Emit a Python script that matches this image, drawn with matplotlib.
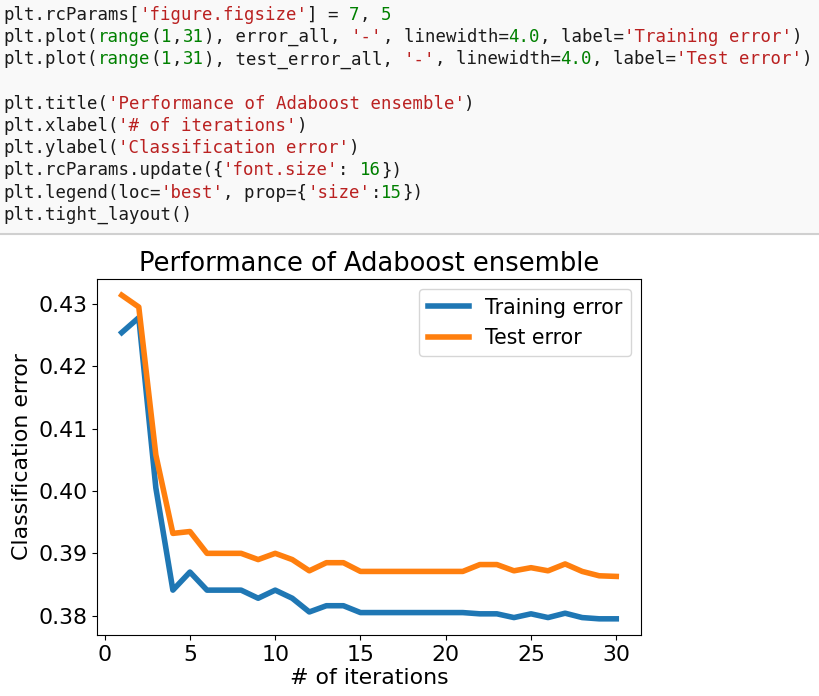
import matplotlib
matplotlib.use('Agg')
import matplotlib.pyplot as plt
from matplotlib.patches import Rectangle
from matplotlib.lines import Line2D

# values
iterations = list(range(1, 31))
error_all = [0.4254, 0.4278, 0.4005, 0.3841, 0.3870, 0.3841, 0.3841, 0.3841,
             0.3828, 0.3841, 0.3828, 0.3806, 0.3816, 0.3816, 0.3805, 0.3805,
             0.3805, 0.3805, 0.3805, 0.3805, 0.3805, 0.3803, 0.3803, 0.3797,
             0.3803, 0.3797, 0.3804, 0.3797, 0.3795, 0.3795]
test_error_all = [0.4314, 0.4295, 0.4058, 0.3932, 0.3935, 0.3900, 0.3900, 0.3900,
                  0.3890, 0.3900, 0.3890, 0.3872, 0.3885, 0.3885, 0.3871, 0.3871,
                  0.3871, 0.3871, 0.3871, 0.3871, 0.3871, 0.3882, 0.3882, 0.3872,
                  0.3877, 0.3872, 0.3883, 0.3871, 0.3864, 0.3863]

# notebook cell source, as (text, kind) pieces per line
code_lines = [
    [("plt.rcParams[", "n"), ("'figure.figsize'", "s"), ("] = ", "n"), ("7", "d"), (", ", "n"), ("5", "d")],
    [("plt.plot(", "n"), ("range", "d"), ("(", "n"), ("1", "d"), (",", "n"), ("31", "d"),
     ("), error_all, ", "n"), ("'-'", "s"), (", linewidth=", "n"), ("4.0", "d"),
     (", label=", "n"), ("'Training error'", "s"), (")", "n")],
    [("plt.plot(", "n"), ("range", "d"), ("(", "n"), ("1", "d"), (",", "n"), ("31", "d"),
     ("), test_error_all, ", "n"), ("'-'", "s"), (", linewidth=", "n"), ("4.0", "d"),
     (", label=", "n"), ("'Test error'", "s"), (")", "n")],
    [],
    [("plt.title(", "n"), ("'Performance of Adaboost ensemble'", "s"), (")", "n")],
    [("plt.xlabel(", "n"), ("'# of iterations'", "s"), (")", "n")],
    [("plt.ylabel(", "n"), ("'Classification error'", "s"), (")", "n")],
    [("plt.rcParams.update({", "n"), ("'font.size'", "s"), (": ", "n"), ("16", "d"), ("})", "n")],
    [("plt.legend(loc=", "n"), ("'best'", "s"), (", prop={", "n"), ("'size'", "s"), (":", "n"), ("15", "d"), ("})", "n")],
    [("plt.tight_layout()", "n")],
]
code_colors = {"n": "#1a1a1a", "s": "#ba2121", "d": "#008000"}

W, H = 820, 696
fig = plt.figure(figsize=(W / 100, H / 100), dpi=100)
fig.patch.set_facecolor('white')

# code cell background and separator
fig.patches.append(Rectangle((0, 1 - 233 / H), 1, 233 / H, transform=fig.transFigure,
                             facecolor='#f9f9f9', edgecolor='none', zorder=0))
fig.lines.append(Line2D([0, 1], [1 - 234.5 / H] * 2, transform=fig.transFigure,
                        color='#d0d0d0', linewidth=1.5))

code_size = 12.5
char_w = 0.6021 * code_size * 100 / 72  # px per monospace char
for i, parts in enumerate(code_lines):
    y = 1 - (15 + i * 22.2) / H
    x = 3.0
    for txt, kind in parts:
        fig.text(x / W, y, txt, family='DejaVu Sans Mono', fontsize=code_size,
                 color=code_colors[kind], va='center', ha='left')
        x += len(txt) * char_w + 0.4

ax = fig.add_axes([97 / W, 1 - 635 / H, (641 - 97) / W, (635 - 279) / H])
ax.plot(iterations, error_all, '-', linewidth=4.0, label='Training error', color='#1f77b4')
ax.plot(iterations, test_error_all, '-', linewidth=4.0, label='Test error', color='#ff7f0e')

ax.set_title('Performance of Adaboost ensemble', fontsize=18.5)
ax.set_xlabel('# of iterations', fontsize=15.8, labelpad=2)
ax.set_ylabel('Classification error', fontsize=15.8)
ax.tick_params(labelsize=15.8)
ax.set_yticks([0.38, 0.39, 0.40, 0.41, 0.42, 0.43])
ax.set_xticks([0, 5, 10, 15, 20, 25, 30])
ax.legend(loc='upper right', prop={'size': 14.8})

fig.savefig('out.png', dpi=100)
